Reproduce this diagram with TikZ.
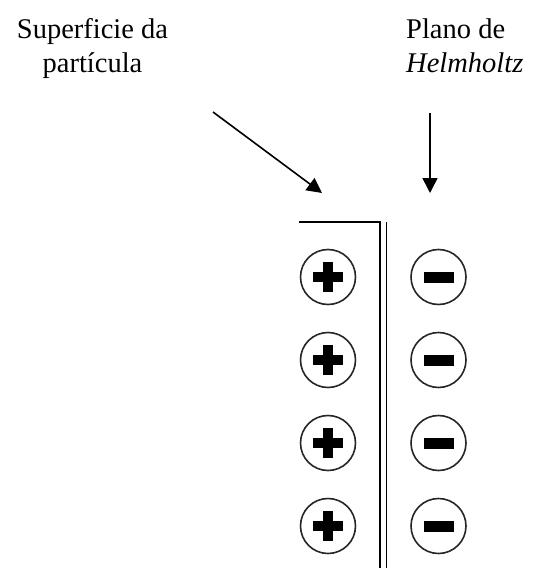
\documentclass[tikz,border=0pt]{standalone}
\usepackage{fontspec}
\setmainfont{Liberation Serif}
\usetikzlibrary{arrows.meta}
\begin{document}
\begin{tikzpicture}[x=1pt,y=-1pt,
  ion/.style={circle,draw=black!85,line width=1.6pt,minimum size=55pt,inner sep=0pt},
  lbl/.style={font=\fontsize{28.5}{35}\selectfont,inner sep=0pt},
  pointer/.style={line width=1.6pt,-{Triangle[length=15pt,width=15pt]}},
  wall/.style={line width=1.6pt}]
\useasboundingbox (0,0) rectangle (534,578);

% labels (base anchor sits on the last line)
\node[lbl,align=center,anchor=base] (surf) at (92.5,73) {Superficie da\\partícula};
\node[lbl,align=left,anchor=base west] (helm) at (406,73) {Plano de\\\textit{Helmholtz}};

% pointers
\coordinate (s0) at (213,112);
\coordinate (s1) at (322,193);
\coordinate (h0) at (430,113);
\coordinate (h1) at (430,193);
\draw[pointer] (s0) -- (s1);
\draw[pointer] (h0) -- (h1);

% particle surface: top edge and double wall
\coordinate (t0) at (299,222);
\coordinate (wa) at (380,222);
\coordinate (wb) at (380,568);
\coordinate (wc) at (386.5,222);
\coordinate (wd) at (386.5,568);
\draw[wall] (t0) -- (wa) -- (wb);
\draw[wall] (wc) -- (wd);

% ions
\foreach \i/\y in {1/277,2/360,3/443,4/526}{
  \node[ion] (p\i) at (328,\y) {};
  \node[ion] (m\i) at (438.5,\y) {};
  \fill ([shift={(-15,-5)}]p\i.center) rectangle ([shift={(15,5)}]p\i.center);
  \fill ([shift={(-5,-15)}]p\i.center) rectangle ([shift={(5,15)}]p\i.center);
  \fill ([shift={(-15,-5.5)}]m\i.center) rectangle ([shift={(15,5.5)}]m\i.center);
}
\end{tikzpicture}
\end{document}
